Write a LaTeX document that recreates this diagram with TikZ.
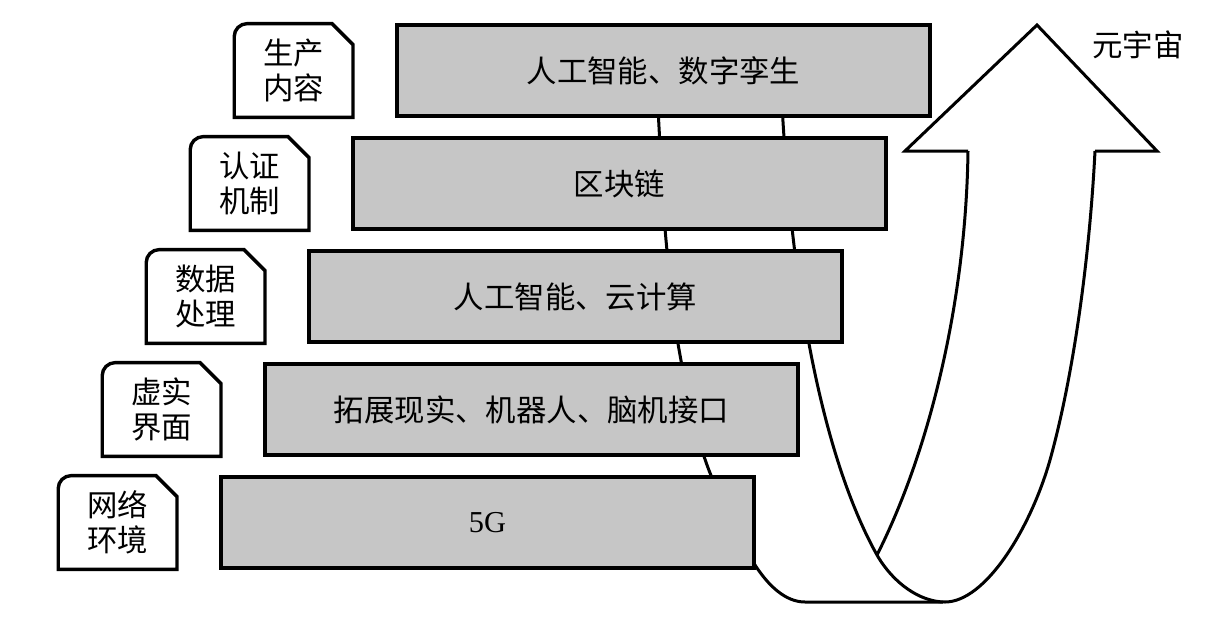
\documentclass[tikz,border=0pt]{standalone}
\usepackage{fontspec}
\setmainfont{Liberation Serif}
\newfontfamily\cjk{Noto Sans CJK SC}
\usetikzlibrary{positioning}
\definecolor{boxgray}{HTML}{C6C6C6}
\tikzset{
  % stacked technology layers
  layer/.style={
    draw=black, fill=boxgray, line width=1.7pt,
    minimum width=266.5pt, minimum height=45.5pt,
    inner sep=0pt, outer sep=0pt,
    font=\fontsize{15.2}{17.5}\selectfont\cjk,
  },
  % side tags (outline drawn separately)
  tag/.style={
    minimum width=59pt, minimum height=46.5pt, inner sep=0pt,
    align=center, font=\fontsize{15.2}{17.5}\selectfont\cjk,
  },
  tagline/.style={line width=1.7pt, line join=miter},
  % the big bent arrow
  ribbon/.style={line width=1.5pt, line join=miter},
}
\begin{document}
\begin{tikzpicture}[x=0.5pt, y=-0.5pt, node distance=11pt]
  \useasboundingbox (0,0) rectangle (1222,617);
  % ribbon behind the layers
  \draw[ribbon] plot[smooth, tension=0.6] coordinates
    {(656,60) (659,127) (666,240) (680,355) (707,465) (755,565)};
  \draw[ribbon] (755,565) .. controls (768,585) and (785,602) .. (805,602)
    -- (943,602);
  \draw[ribbon] (780,60) .. controls (790,330) and (835,480) .. (877,555)
    .. controls (893,583) and (920,602) .. (945,602)
    .. controls (985,602) and (1030,530) .. (1050,460)
    .. controls (1075,370) and (1090,250) .. (1095,151);
  \draw[ribbon] (968,151) .. controls (966,300) and (930,450) .. (877,555);
  \draw[ribbon] (1095,151) -- (1157,151) -- (1037,25) -- (905,151) -- (968,151);
  \node[font=\fontsize{15.2}{17.5}\selectfont\cjk] (meta) at (1138,45) {元宇宙};

  % layers
  \node[layer] (twin) at (663.5,70.5) {人工智能、数字孪生};
  \node[layer, below=11pt of twin, xshift=-22pt] (chain) {区块链};
  \node[layer, below=11pt of chain, xshift=-22pt] (cloud) {人工智能、云计算};
  \node[layer, below=11pt of cloud, xshift=-22pt] (xr) {拓展现实、机器人、脑机接口};
  \node[layer, below=11pt of xr, xshift=-22pt] (net) {{\rmfamily 5G}};

  % tags
  \node[tag, left=22pt of twin] (twintag) {生产\\内容};
  \node[tag, left=22pt of chain] (chaintag) {认证\\机制};
  \node[tag, left=22pt of cloud] (cloudtag) {数据\\处理};
  \node[tag, left=22pt of xr] (xrtag) {虚实\\界面};
  \node[tag, left=22pt of net] (nettag) {网络\\环境};
  \foreach \t in {twintag, chaintag, cloudtag, xrtag, nettag}
    \draw[tagline] (\t.south west) -- ([yshift=-6.5pt]\t.north west)
      arc[start angle=180, end angle=90, radius=6.5pt]
      -- ([xshift=-10.5pt]\t.north east) -- ([yshift=-10.5pt]\t.north east)
      -- (\t.south east) -- cycle;
\end{tikzpicture}
\end{document}
